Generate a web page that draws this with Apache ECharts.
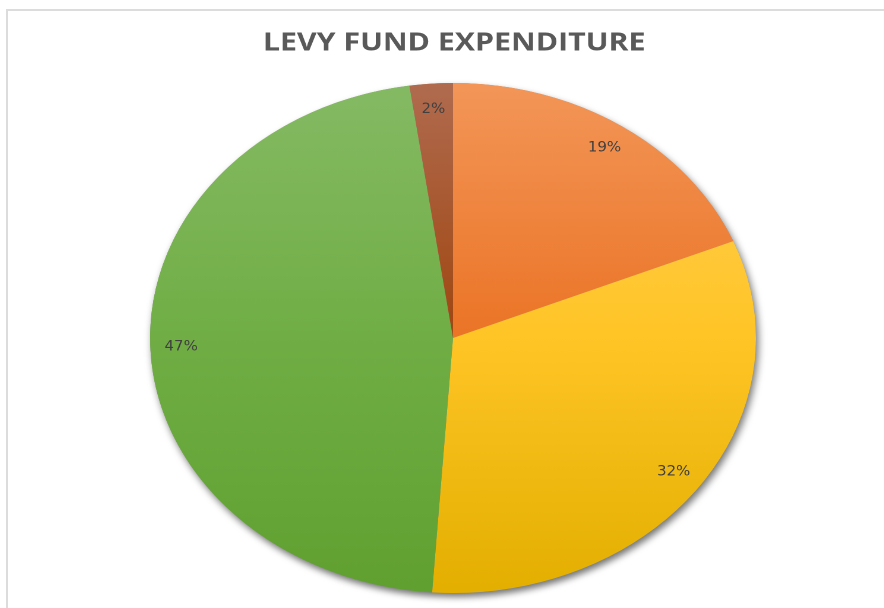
<!DOCTYPE html>
<html>
<head>
<meta charset="utf-8">
<script src="https://cdn.jsdelivr.net/npm/echarts@6/dist/echarts.min.js"></script>
<style>
  html, body { margin: 0; padding: 0; background: #fff; }
  #frame { position: absolute; left: 6px; top: 9px; width: 900px; height: 620px;
           border-left: 2px solid #dcdcdc; border-top: 2px solid #dcdcdc; }
  #pie { position: absolute; left: 0; top: 0; width: 884px; height: 608px;
         transform: scaleX(1.188); transform-origin: 453px 0; }
</style>
</head>
<body>
<div id="frame"></div>
<div id="pie"></div>
<script>
// data (share of expenditure, %)
var categories = ['Item 1', 'Item 2', 'Item 3', 'Item 4']
var values = [18.8, 32.3, 46.6, 2.3]
// top / middle / bottom shade of each slice
var topColors = ['#F39658', '#FFCE58', '#85BA64', '#B06B4F']
var midColors = ['#EB7426', '#FFC526', '#70AE45', '#A04610']
var lowColors = ['#E25D08', '#E3AF00', '#60A030', '#8E3A05']

var cx = 453, cy = 338, r = 255

function grad (i) {
    return {
        type: 'linear', global: true,
        x: 0, y: cy - r, x2: 0, y2: cy + r,
        colorStops: [
            { offset: 0, color: topColors[i] },
            { offset: 0.5, color: midColors[i] },
            { offset: 1, color: lowColors[i] }
        ]
    }
}

var total = 0
values.forEach(function (v) { total += v })

var pieData = categories.map(function (c, i) {
    return { name: c, value: values[i], itemStyle: { color: grad(i) } }
})
var labelData = categories.map(function (c, i) {
    return { name: c, value: values[i] }
})

// whole picture is stretched sideways, like the reference
var pieChart = echarts.init(document.getElementById('pie'), null, { devicePixelRatio: 2 })
pieChart.setOption({
    animation: false,
    title: {
        text: 'LEVY FUND EXPENDITURE',
        left: 449, top: 25, textAlign: 'center',
        textStyle: { fontFamily: 'Open Sans', fontWeight: 'bold', fontSize: 25.5, color: '#595959' }
    },
    series: [
        {
            // backdrop only for the drop shadow
            type: 'pie', silent: true, center: [cx, cy], radius: [0, r],
            label: { show: false }, labelLine: { show: false },
            itemStyle: { color: '#888', shadowBlur: 7, shadowOffsetX: 2, shadowOffsetY: 4, shadowColor: 'rgba(0,0,0,0.55)' },
            data: [{ name: 'all', value: total }]
        },
        {
            type: 'pie', center: [cx, cy], radius: [0, r], startAngle: 90, clockwise: true,
            label: { show: false }, labelLine: { show: false },
            itemStyle: { borderWidth: 0 },
            data: pieData
        },
        {
            // ring that carries the percentage labels near the rim
            type: 'pie', silent: true, center: [cx, cy], radius: [196, 256], startAngle: 90, clockwise: true,
            itemStyle: { color: 'rgba(0,0,0,0)' },
            labelLine: { show: false },
            label: {
                show: true, position: 'inside',
                formatter: function (p) { return Math.round(p.percent) + '%' },
                fontFamily: "'DejaVu Sans Condensed', 'DejaVu Sans'", fontSize: 14, color: '#404040'
            },
            data: labelData
        }
    ]
})
</script>
</body>
</html>
